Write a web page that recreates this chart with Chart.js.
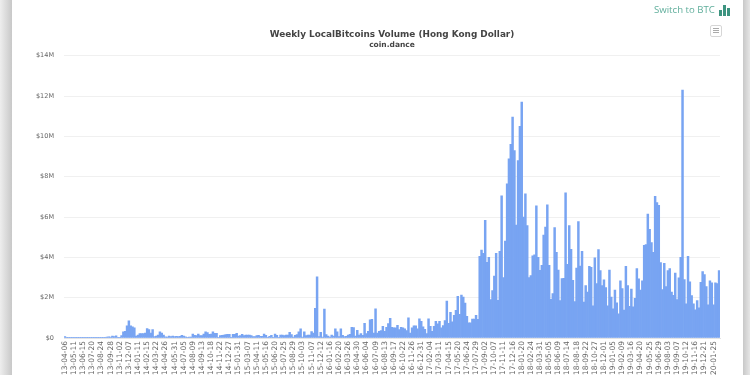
<!DOCTYPE html>
<html>
<head>
<meta charset="utf-8">
<script src="https://cdn.jsdelivr.net/npm/chart.js@4"></script>
<style>
html,body{margin:0;padding:0;width:750px;height:375px;overflow:hidden;background:#fff;font-family:"DejaVu Sans",sans-serif}
#shadowL{position:absolute;left:0;top:0;width:12px;height:375px;background:linear-gradient(to right,#eeeeee,#c8c8c8)}
#shadowR{position:absolute;left:743px;top:0;width:7px;height:375px;background:linear-gradient(to right,#c8c8c8,#e6e6e6)}
#wrap{position:absolute;left:0;top:0;width:750px;height:400px}
#switch{position:absolute;left:654px;top:3px;font:400 9.6px/14px "Open Sans",sans-serif;color:#5fae9b;white-space:nowrap}
#icon{position:absolute;left:719px;top:5px;width:12px;height:11px}
#icon i{position:absolute;bottom:0;width:3px;background:#3d9480}
#menu{position:absolute;left:710px;top:25px;width:10px;height:10px;border:1px solid #d6d6d6;border-radius:2px;background:#fff}
#menu i{position:absolute;left:2px;width:6px;height:1px;background:#aaa}
</style>
</head>
<body>
<div id="wrap"><canvas id="c" width="750" height="400"></canvas></div>
<div id="shadowL"></div><div id="shadowR"></div>
<div id="switch">Switch to BTC</div>
<div id="icon"><i style="left:0;height:6px"></i><i style="left:4px;height:11px"></i><i style="left:8px;height:8px"></i></div>
<div id="menu"><i style="top:2px"></i><i style="top:4px"></i><i style="top:6px"></i></div>
<script>
const titleText = "Weekly LocalBitcoins Volume (Hong Kong Dollar)";
const subtitleText = "coin.dance";
const tickLabels = ["2013-04-06","2013-05-11","2013-06-15","2013-07-20","2013-08-24","2013-09-28","2013-11-02","2013-12-07","2014-01-11","2014-02-15","2014-03-22","2014-04-26","2014-05-31","2014-07-05","2014-08-09","2014-09-13","2014-10-18","2014-11-22","2014-12-27","2015-01-31","2015-03-07","2015-04-11","2015-05-16","2015-06-20","2015-07-25","2015-08-29","2015-10-03","2015-11-07","2015-12-12","2016-01-16","2016-02-20","2016-03-26","2016-04-30","2016-06-04","2016-07-09","2016-08-13","2016-09-17","2016-10-22","2016-11-26","2016-12-31","2017-02-04","2017-03-11","2017-04-15","2017-05-20","2017-06-24","2017-07-29","2017-09-02","2017-10-07","2017-11-11","2017-12-16","2018-01-20","2018-02-24","2018-03-31","2018-05-05","2018-06-09","2018-07-14","2018-08-18","2018-09-22","2018-10-27","2018-12-01","2019-01-05","2019-02-09","2019-03-16","2019-04-20","2019-05-25","2019-06-29","2019-08-03","2019-09-07","2019-10-12","2019-11-16","2019-12-21","2020-01-25"];
const yTicks = [0,2,4,6,8,10,12,14];
// weekly volume, millions of HKD
const vol2013 = [.07,.02,.01,.01,.01,.02,.01,.01,.02,.03,.02,.01,.01,.02,.03,.02,.01,.01,.02,.02,.01,
 .02,.03,.05,.06,.04,.1,.07,.11,.03,.03,.12,.3,.33,.6,.85,.6,.55,.5,.1,.15,.22,.22,.22,.25,.47,.42,.24,.42,.07,.1,.14,.3,.24,.14,.06,.04,.1,.07,.09,.07,.08,.07,.08,.13,.09,.06,.03,.05];
const vol2014 = [.05,.2,.13,.12,.2,.12,.12,.2,.3,.27,.18,.2,.3,.23,.23,.02,.12,.13,.15,.17,.18,.18,.02,.18,.18,.23,.1,.12,.18,.12,.15,.15,.15,.12,.07,.07,.12,.13,.08,.08,.2,.13,.02,.08,.13,.02,.2,.13,.03,.15,.15,.12,.15,.15,.28,.17,.05,.13,.17,.3,.45,.05,.3,.12,.15,.15,.32,.25,1.47,3.03,.07,.28,.05,1.43,.17,.1,.05,.15,.1,.45,.3,.07,.45,.13,.07,.08,.15,.18,.53,.52,.1,.38,.15,.22,.13,.73,.22,.33,.9,.92,.25,1.45,.25,.33];
const vol2016 = [.37,.58,.33,.53,.72,.97,.53,.5,.5,.63,.42,.53,.5,.45,.37,1,.25,.5,.6,.6,.45,.95,.83,.55,.43,.22,.95,.58,.33,.58,.83,.7,.83,.5,.62,.87,1.83,.73,1.27,.8,1.13,1.37,2.07,1.17,2.13,2.03,1.73,1.08,.75];
const vol2017 = [.75,.94,.94,1.12,.93,4.05,4.36,4.2,5.83,3.75,4,1.9,2.35,3.07,4.2,1.87,4.3,7.05,3,4.8,7.65,8.88,9.6,10.95,9.3,5.6,8.8,10.5,11.7,6,7.15,5.57,3,3.1,4.07,4.13,6.55,4,3.35,3.6,5.1,5.5,6.6,3.6,1.92,2.2,5.47,4.25,3.37,1.85,2.95,2.96,7.2,3.65,5.57,4.4,2.86,1.8,3.47,5.77,3.57,4.3,1.78,2.6,2.28,3.55,3.5,1.6,3.97,2.7,4.38,3.34,2.6,2.88,2.5,1.6,3.37];
const vol2019 = [2.03,1.45,2.38,1.75,1.2,2.84,2.45,1.39,3.55,2.6,1.57,2.43,1.55,1.97,3.44,2.94,2.38,2.84,4.6,4.63,6.15,5.39,4.73,4.25,7.03,6.71,6.58,3.74,2.4,3.7,2.55,3.34,3.44,2.28,2.12,3.22,1.9,2.98,4,12.3,2.9,1.7,4.05,2.78,2.1,1.7,1.4,1.85,1.49,2.76,3.29,3.14,2.55,1.65,2.83,2.74,1.65,2.73,2.7,3.34];
const values = [...vol2013,...vol2014,...vol2016,...vol2017,...vol2019];
const categories = values.map((_,i)=> i%5===0 ? (tickLabels[i/5]||"") : "");

new Chart(document.getElementById('c'),{
  type:'bar',
  data:{labels:categories,datasets:[{data:values,backgroundColor:'#78a4f2',borderWidth:0,barPercentage:1,categoryPercentage:1}]},
  options:{
    responsive:false,animation:false,
    layout:{padding:{left:0,right:30,top:0,bottom:0}},
    plugins:{
      legend:{display:false},tooltip:{enabled:false},
      title:{display:true,fullSize:false,text:titleText,color:'#444',font:{family:'"DejaVu Sans"',size:8.9,weight:'bold'},padding:{top:29,bottom:1}},
      subtitle:{display:true,fullSize:false,text:subtitleText,color:'#444',font:{family:'"DejaVu Sans"',size:7.5,weight:'bold'},padding:{top:0,bottom:6}}
    },
    scales:{
      x:{
        grid:{display:false,drawTicks:false},
        border:{color:'#e4e4e4'},
        afterFit(s){s.height=62;},
        ticks:{autoSkip:false,maxRotation:90,minRotation:90,padding:3,color:'#666',font:{family:'"DejaVu Sans"',size:7.5},
          callback(v,i){return categories[i];}}
      },
      y:{
        min:0,max:14,
        afterFit(s){s.width=64;},
        afterBuildTicks(s){s.ticks=yTicks.map(v=>({value:v}));},
        grid:{color:'#f0f0f0',drawTicks:false},
        border:{display:false},
        ticks:{padding:10,color:'#666',font:{family:'"DejaVu Sans"',size:6.5},
          callback(v){return v===0?'$0':'$'+v+'M';}}
      }
    }
  }
});
</script>
</body>
</html>
